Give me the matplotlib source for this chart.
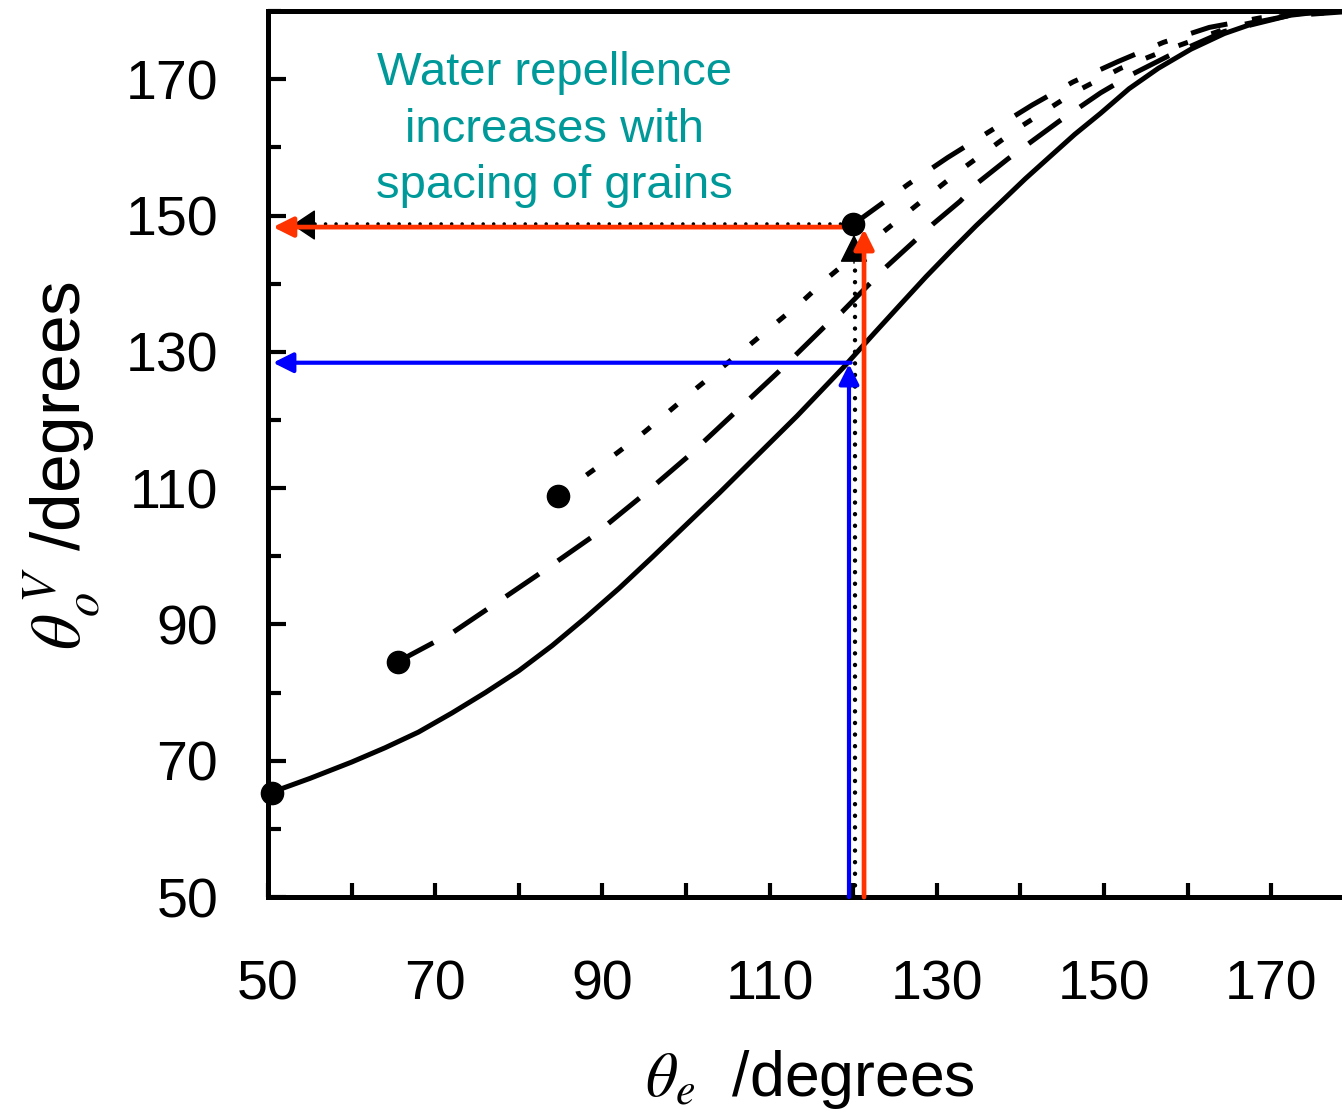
import numpy as np
import matplotlib.pyplot as plt
from matplotlib.ticker import MultipleLocator

# values (degrees)
solid_x = [50.5, 55, 60, 64, 68, 72, 76, 80, 84, 88, 92, 96, 100, 104, 107.7, 113.3, 118.9,
           122.5, 125.7, 128.7, 131.7, 134.7, 137.7, 140.6, 143.5, 146.5, 149.6, 153, 156.5,
           160.4, 164.4, 168.4, 172.4, 176, 180]
solid_y = [65.4, 67.4, 69.8, 71.9, 74.2, 77.0, 80.0, 83.2, 86.9, 91.0, 95.3, 99.9, 104.6,
           109.3, 113.8, 120.6, 127.8, 132.7, 137.0, 141.0, 144.8, 148.5, 152.0, 155.4, 158.6,
           161.9, 165.0, 168.6, 171.6, 174.4, 176.7, 178.4, 179.4, 179.9, 180]

dash_x = [65.6, 67.0, 72.2, 76.3, 82.3, 88.6, 94.5, 100.2, 105.6, 111.1, 116.5, 118.7, 123.9,
          127.2, 129.5, 132.8, 134.9, 138.5, 144.6, 149.6, 153.5, 157.7, 164.4, 172, 180]
dash_y = [84.5, 85.5, 88.9, 92.3, 97.3, 102.7, 108.6, 114.6, 120.8, 127.1, 133.6, 135.9, 142.4,
          146.1, 148.7, 152.1, 154.8, 158.3, 163.8, 168.0, 170.8, 173.4, 177.0, 179.3, 180]

short_x = [84.7, 88.3, 91.8, 95.1, 101.4, 107.7, 114.0, 117.0, 123.2, 129.5, 133.0, 139.6,
           146.5, 152, 157.5, 165, 172, 180]
short_y = [108.9, 112.1, 115.2, 118.3, 124.8, 131.1, 137.5, 140.9, 147.2, 153.4, 156.8, 162.7,
           168.1, 171.6, 174.3, 177.6, 179.4, 180]

dashdot_x = [120.0, 123.6, 126.6, 131.3, 136.4, 141.4, 146.3, 151.7, 157.1, 162.6, 168.7, 174, 180]
dashdot_y = [148.7, 151.9, 154.6, 158.5, 162.4, 166.2, 169.6, 172.6, 175.4, 177.6, 179.0, 179.7, 180]

# starting points of each curve
dot_x = [50.5, 65.6, 84.7, 120.0]
dot_y = [65.3, 84.5, 108.8, 148.7]

# guide arrows
red_x, red_y = 121.3, 148.3
blue_x, blue_y = 119.5, 128.4
black_x, black_y = 120.2, 148.8
arrow_left = 50.6

red = '#FF3300'
blue = '#0000FF'
teal = '#009999'

plt.rcParams['font.family'] = ['Liberation Sans', 'DejaVu Sans']
plt.rcParams['mathtext.fontset'] = 'stix'

fig = plt.figure(figsize=(13.42, 11.16), dpi=100)
ax = fig.add_axes([0.1997, 0.1962, 0.8098, 0.7939])

lw = 3.6
ax.plot(solid_x, solid_y, color='k', lw=lw, solid_joinstyle='round')
ax.plot(dash_x, dash_y, color='k', lw=lw, dashes=(8, 4.6), dash_capstyle='butt')
ax.plot(short_x, short_y, color='k', lw=lw, dashes=(2, 5), dash_capstyle='butt')
ax.plot(dashdot_x, dashdot_y, color='k', lw=lw, dashes=(7.5, 5, 2, 5), dash_capstyle='butt')

# black dotted guides
ax.plot([black_x, black_x], [50, 146.5], color='k', lw=3.2,
        dashes=(0.01, 2.6), dash_capstyle='round', zorder=3)
ax.plot([black_x - 0.5, 54.5], [black_y, black_y], color='k', lw=2.6,
        dashes=(0.01, 2.9), dash_capstyle='round', zorder=3)
head_black = '-|>,head_length=0.9,head_width=0.45'
ax.annotate('', xy=(black_x - 0.1, 147.2), xytext=(black_x - 0.1, 143.0),
            arrowprops=dict(arrowstyle=head_black, color='k', lw=1, mutation_scale=20,
                            shrinkA=0, shrinkB=0), zorder=4)
ax.annotate('', xy=(52.9, black_y - 0.2), xytext=(55.0, black_y - 0.2),
            arrowprops=dict(arrowstyle='-|>,head_length=0.75,head_width=0.5', color='k',
                            lw=1, mutation_scale=20, shrinkA=0, shrinkB=0), zorder=4)

head = '-|>,head_length=0.6,head_width=0.3'
# blue arrows
ax.annotate('', xy=(blue_x, blue_y - 0.2), xytext=(blue_x, 50),
            arrowprops=dict(arrowstyle=head, color=blue, lw=3, mutation_scale=20,
                            shrinkA=0, shrinkB=0), zorder=5)
ax.annotate('', xy=(arrow_left, blue_y), xytext=(blue_x + 0.2, blue_y),
            arrowprops=dict(arrowstyle=head, color=blue, lw=3, mutation_scale=20,
                            shrinkA=0, shrinkB=0), zorder=5)
# red arrows
ax.annotate('', xy=(red_x, 148.0), xytext=(red_x, 50),
            arrowprops=dict(arrowstyle=head, color=red, lw=3.4, mutation_scale=20,
                            shrinkA=0, shrinkB=0), zorder=5)
ax.annotate('', xy=(arrow_left, red_y), xytext=(120.5, red_y),
            arrowprops=dict(arrowstyle=head, color=red, lw=3.4, mutation_scale=20,
                            shrinkA=0, shrinkB=0), zorder=5)

ax.plot(dot_x, dot_y, 'o', color='k', ms=16, clip_on=False, zorder=6)

ax.text(84.3, 162.6, 'Water repellence\nincreases with\nspacing of grains',
        color=teal, fontsize=34, ha='center', va='center', multialignment='center',
        linespacing=1.36)

ax.set_xlim(50, 180)
ax.set_ylim(50, 180)
ax.xaxis.set_minor_locator(MultipleLocator(10))
ax.yaxis.set_minor_locator(MultipleLocator(10))
ax.set_xticks(np.arange(50, 171, 20))
ax.set_yticks(np.arange(50, 171, 20))

for s in ax.spines.values():
    s.set_linewidth(3.6)
ax.spines['right'].set_visible(False)

ax.tick_params(which='both', direction='in', width=3, labelsize=40, top=False, right=False)
ax.tick_params(axis='y', which='major', length=13, pad=36)
ax.tick_params(axis='y', which='minor', length=9)
ax.tick_params(axis='x', which='both', length=10, pad=45)

ax.set_xlabel(r'$\theta_{e}$  /degrees', fontsize=45)
ax.set_ylabel(r'$\theta_{o}^{\,V}$ /degrees', fontsize=50)
ax.xaxis.set_label_coords(0.4990, -0.170)
ax.yaxis.set_label_coords(-0.1530, 0.487)

fig.savefig('out.png', dpi=100)
